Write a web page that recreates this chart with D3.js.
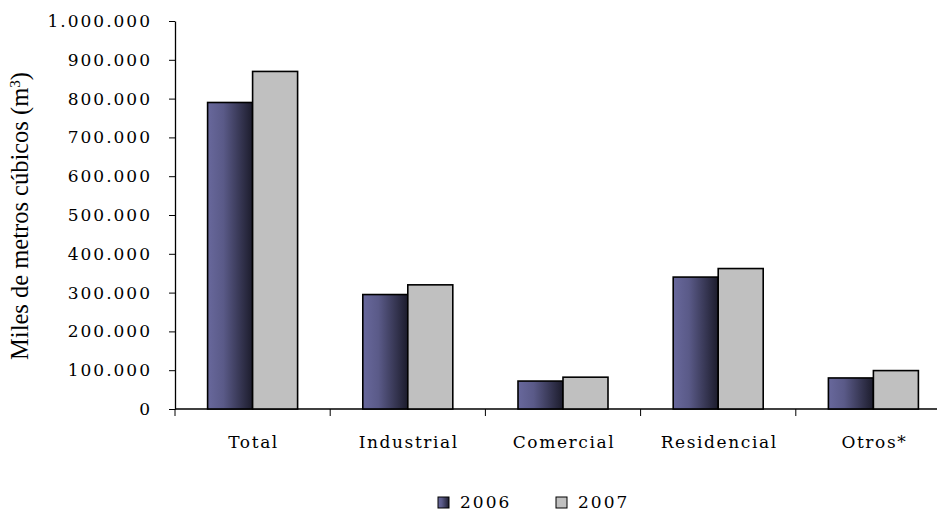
<!DOCTYPE html>
<html>
<head>
<meta charset="utf-8">
<script src="https://cdn.jsdelivr.net/npm/d3@7"></script>
<style>
  body { margin: 0; background: #fff; }
  text { font-family: "DejaVu Serif", serif; fill: #000; }
  text.ytitle { font-family: "Liberation Serif", "Times New Roman", serif; }
</style>
</head>
<body>
<div id="chart"></div>
<script>
var categories = ["Total", "Industrial", "Comercial", "Residencial", "Otros*"];
var series = ["2006", "2007"];
var values2006 = [790000, 295000, 72000, 340000, 80000];
var values2007 = [870000, 320000, 82000, 362000, 99000];
var yTicks = [0, 100000, 200000, 300000, 400000, 500000, 600000, 700000, 800000, 900000, 1000000];

var svgWidth = 937, svgHeight = 512;
var margin = {top: 21, left: 175, bottom: 103};
var plotWidth = 776;
var plotHeight = svgHeight - margin.top - margin.bottom;

var svg = d3.select("#chart").append("svg")
  .attr("width", svgWidth)
  .attr("height", svgHeight);

var defs = svg.append("defs");
var grad = defs.append("linearGradient").attr("id", "g2006")
  .attr("x1", "0%").attr("x2", "100%").attr("y1", "0%").attr("y2", "0%");
grad.append("stop").attr("offset", "0%").attr("stop-color", "#68689c");
grad.append("stop").attr("offset", "35%").attr("stop-color", "#5a5a88");
grad.append("stop").attr("offset", "100%").attr("stop-color", "#1c1c2c");

var fills = ["url(#g2006)", "#c0c0c0"];

var chartGroup = svg.append("g")
  .attr("transform", `translate(${margin.left},${margin.top})`);

var x0 = d3.scaleBand().domain(categories).range([0, plotWidth]).paddingInner(0).paddingOuter(0);
var x1 = d3.scaleBand().domain(series).range([0, 90]);
var y = d3.scaleLinear().domain([0, 1000000]).range([plotHeight, 0]);

var fmt = function(v) { return d3.format(",")(v).replace(/,/g, "."); };

// y axis
var yAxis = chartGroup.append("g")
  .call(d3.axisLeft(y).tickValues(yTicks).tickSize(6).tickSizeOuter(0).tickFormat(fmt));
yAxis.select(".domain").attr("stroke", "#000").attr("stroke-width", 1.3);
yAxis.selectAll(".tick line").attr("stroke", "#000");
yAxis.selectAll(".tick text")
  .attr("x", -23)
  .style("font-size", "17px")
  .style("letter-spacing", "2px")
  .style("font-family", "'DejaVu Serif', serif");

// x axis
var xAxis = chartGroup.append("g")
  .attr("transform", `translate(0,${plotHeight})`);
xAxis.append("line")
  .attr("x1", 0).attr("x2", plotWidth)
  .attr("stroke", "#000").attr("stroke-width", 1.3);
xAxis.selectAll("line.tk")
  .data(categories)
  .enter().append("line")
  .attr("class", "tk")
  .attr("x1", d => x0(d)).attr("x2", d => x0(d))
  .attr("y1", 0).attr("y2", 7)
  .attr("stroke", "#000");
xAxis.selectAll("text")
  .data(categories)
  .enter().append("text")
  .attr("x", d => x0(d) + x0.bandwidth() / 2 + 1)
  .attr("y", 39)
  .attr("text-anchor", "middle")
  .style("font-size", "17px")
  .style("letter-spacing", "1.6px")
  .text(d => d);

// bars
var groups = chartGroup.selectAll("g.cat")
  .data(categories)
  .enter().append("g")
  .attr("class", "cat")
  .attr("transform", d => `translate(${x0(d) + x0.bandwidth() / 2 - 45},0)`);

groups.selectAll("rect")
  .data((d, i) => [{s: "2006", v: values2006[i]}, {s: "2007", v: values2007[i]}])
  .enter().append("rect")
  .attr("x", d => x1(d.s))
  .attr("y", d => y(d.v))
  .attr("width", x1.bandwidth())
  .attr("height", d => plotHeight - y(d.v))
  .attr("fill", (d, i) => fills[i])
  .attr("stroke", "#000")
  .attr("stroke-width", 1.6);

// y title
svg.append("text")
  .attr("class", "ytitle")
  .attr("transform", `translate(28,${margin.top + plotHeight / 2 + 1}) rotate(-90)`)
  .attr("text-anchor", "middle")
  .style("font-size", "24.5px")
  .html("Miles de metros cúbicos (m<tspan dy='-8' font-size='15px'>3</tspan><tspan dy='8'>)</tspan>");

// legend
var legendX = [438, 556];
var legend = svg.selectAll("g.legend")
  .data(series)
  .enter().append("g")
  .attr("class", "legend")
  .attr("transform", (d, i) => `translate(${legendX[i]},497)`);
legend.append("rect")
  .attr("width", 11).attr("height", 11)
  .attr("fill", (d, i) => fills[i])
  .attr("stroke", "#000").attr("stroke-width", 1);
legend.append("text")
  .attr("x", 22).attr("y", 11)
  .style("font-size", "17px")
  .style("letter-spacing", "2px")
  .text(d => d);
</script>
</body>
</html>
